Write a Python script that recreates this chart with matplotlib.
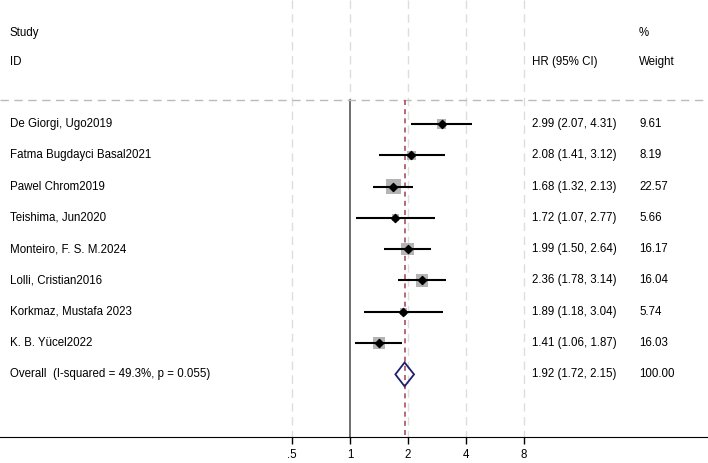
import numpy as np
import matplotlib
matplotlib.use('Agg')
import matplotlib.pyplot as plt
from matplotlib.patches import Polygon
import matplotlib.transforms as mtransforms

plt.rcParams['font.family'] = ['Liberation Sans', 'DejaVu Sans']

# study data
studies = ['De Giorgi, Ugo2019', 'Fatma Bugdayci Basal2021', 'Pawel Chrom2019',
           'Teishima, Jun2020', 'Monteiro, F. S. M.2024', 'Lolli, Cristian2016',
           'Korkmaz, Mustafa 2023', 'K. B. Yücel2022']
hr = [2.99, 2.08, 1.68, 1.72, 1.99, 2.36, 1.89, 1.41]
lo = [2.07, 1.41, 1.32, 1.07, 1.50, 1.78, 1.18, 1.06]
hi = [4.31, 3.12, 2.13, 2.77, 2.64, 3.14, 3.04, 1.87]
weights = [9.61, 8.19, 22.57, 5.66, 16.17, 16.04, 5.74, 16.03]

overall_label = 'Overall  (I-squared = 49.3%, p = 0.055)'
overall_hr, overall_lo, overall_hi = 1.92, 1.72, 2.15

xticks = [0.5, 1, 2, 4, 8]
xtick_labels = ['.5', '1', '2', '4', '8']

fig = plt.figure(figsize=(7.08, 4.63), dpi=100)
ax = fig.add_axes([0, 26 / 463, 1, 1 - 26 / 463])
ax.set_xscale('log', base=2)
ax.set_xlim(2 ** (-350 / 58), 2 ** ((708 - 350) / 58))
ax.set_ylim(10, -3.96)

n = len(studies)
rows = np.arange(n)
overall_row = n
header_line = -0.77

# gridlines
for t in xticks:
    if t == 1:
        ax.plot([t, t], [-3.96, header_line], color='#dddddd', lw=1, ls=(0, (6, 4)), zorder=0)
        ax.plot([t, t], [header_line, 10], color='#555555', lw=1.2, zorder=1)
    else:
        ax.plot([t, t], [-3.96, 10], color='#dddddd', lw=1, ls=(0, (6, 4)), zorder=0)

ax.axhline(header_line, color='#bbbbbb', lw=1, ls=(0, (6, 4)))

# overall effect line
ax.plot([overall_hr, overall_hr], [header_line, 10], color='#a8505f', lw=1.2,
        ls=(0, (3, 2.5)), zorder=2)

# squares, CIs, points
ax.scatter(hr, rows, s=[4.8 * w for w in weights], marker='s', color='#b4b4b4',
           edgecolors='none', zorder=3)
ax.hlines(rows, lo, hi, color='black', lw=1.5, zorder=4)
ax.scatter(hr, rows, s=17, marker='D', color='black', zorder=5)

# overall diamond
dia = Polygon([[overall_lo, overall_row], [overall_hr, overall_row - 0.38],
               [overall_hi, overall_row], [overall_hr, overall_row + 0.38]],
              closed=True, fill=False, edgecolor='#1f1f6e', lw=1.3, zorder=5)
ax.add_patch(dia)

# text columns
tr = mtransforms.blended_transform_factory(ax.transAxes, ax.transData)
fs = 8.3
x_id, x_hr, x_w = 10 / 708, 532 / 708, 639 / 708
ax.text(x_id, -2.9, 'Study', transform=tr, fontsize=fs, va='center')
ax.text(x_id, -1.98, 'ID', transform=tr, fontsize=fs, va='center')
ax.text(x_hr, -1.98, 'HR (95% CI)', transform=tr, fontsize=fs, va='center')
ax.text(x_w, -2.9, '%', transform=tr, fontsize=fs, va='center')
ax.text(x_w, -1.98, 'Weight', transform=tr, fontsize=fs, va='center')

for i in range(n):
    ax.text(x_id, i, studies[i], transform=tr, fontsize=fs, va='center')
    ax.text(x_hr, i, f'{hr[i]:.2f} ({lo[i]:.2f}, {hi[i]:.2f})', transform=tr,
            fontsize=fs, va='center')
    ax.text(x_w, i, f'{weights[i]:.2f}', transform=tr, fontsize=fs, va='center')

ax.text(x_id, overall_row, overall_label, transform=tr, fontsize=fs, va='center')
ax.text(x_hr, overall_row, f'{overall_hr:.2f} ({overall_lo:.2f}, {overall_hi:.2f})',
        transform=tr, fontsize=fs, va='center')
ax.text(x_w, overall_row, '100.00', transform=tr, fontsize=fs, va='center')

# axis
for s in ['top', 'left', 'right']:
    ax.spines[s].set_visible(False)
ax.spines['bottom'].set_color('black')
ax.set_yticks([])
ax.set_xticks(xticks)
ax.set_xticklabels(xtick_labels, fontsize=fs)
ax.xaxis.set_minor_locator(matplotlib.ticker.NullLocator())
ax.tick_params(axis='x', length=5, width=1, pad=4)

fig.savefig('out.png', dpi=100)
